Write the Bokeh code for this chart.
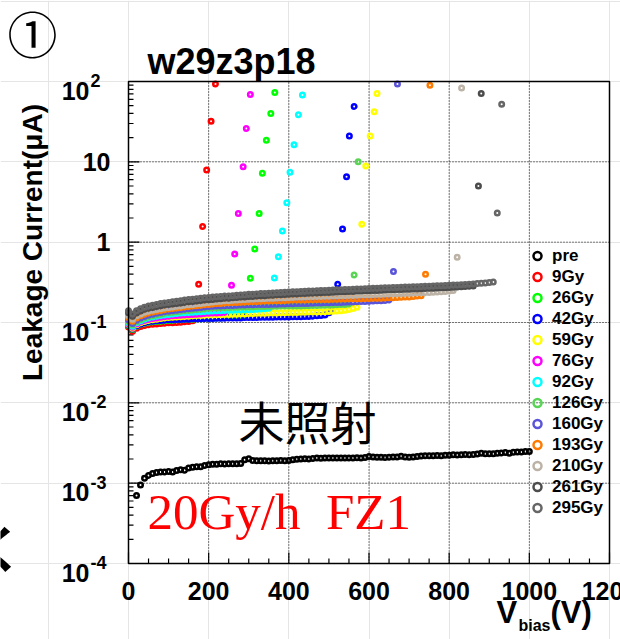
import math
from bokeh.plotting import figure
from bokeh.models import Range1d, Label
from bokeh.embed import file_html
from bokeh.resources import INLINE

# ---------------------------------------------------------------------------
# I-V sweeps of sensor w29z3p18 after successive gamma doses (20 Gy/h, FZ1)
# Sweep values in nA, bias stepped by VSTEP volts from the start voltage.
# Points past each sweep are the breakdown points (V, uA).
# ---------------------------------------------------------------------------
VSTEP = 10

doses = ["pre", "9Gy", "26Gy", "42Gy", "59Gy", "76Gy", "92Gy",
         "126Gy", "160Gy", "193Gy", "210Gy", "261Gy", "295Gy"]
colors = ["#000000", "#ff0000", "#00ff00", "#0000ff", "#ffff00", "#ff00ff",
          "#00ffff", "#59d454", "#5954d9", "#ff7a00", "#bcb3a6", "#4c4c4c",
          "#666666"]
sweep_start_V = [20, 0, 0, 0, 0, 0, 0, 0, 0, 0, 0, 0, 0]

pre_nA = [0.70, 0.95, 1.15, 1.25, 1.32, 1.36, 1.38, 1.38, 1.40, 1.38,
          1.44, 1.47, 1.45, 1.55, 1.58, 1.60, 1.60, 1.66, 1.70, 1.72,
          1.72, 1.74, 1.73, 1.74, 1.74, 1.75, 1.76, 1.95, 2.02, 1.92,
          1.90, 1.90, 1.90, 1.89, 1.90, 1.90, 1.91, 1.90, 1.92, 1.95,
          1.98, 2.00, 2.02, 2.00, 2.03, 2.05, 2.04, 2.06, 2.05, 2.06,
          2.05, 2.05, 2.06, 2.06, 2.05, 2.07, 2.06, 2.08, 2.15, 2.12,
          2.10, 2.10, 2.09, 2.10, 2.11, 2.12, 2.16, 2.12, 2.10, 2.12,
          2.15, 2.18, 2.20, 2.20, 2.20, 2.21, 2.20, 2.22, 2.23, 2.25,
          2.24, 2.25, 2.28, 2.26, 2.28, 2.30, 2.36, 2.32, 2.33, 2.32,
          2.35, 2.38, 2.40, 2.36, 2.42, 2.45, 2.45, 2.47, 2.47]
g9_nA = [88, 78, 85, 89, 92, 94, 95, 96, 97, 98, 99, 99, 100, 101, 102, 103, 105]
g26_nA = [92, 82, 90, 95, 98, 100, 102, 103, 104, 105,
          106, 107, 108, 108, 109, 110, 110, 111, 111, 112,
          113, 113, 114, 114, 115, 116, 116, 117, 118, 120]
g42_nA = [93, 83, 91, 96, 99, 102, 104, 105, 106, 107,
          108, 108, 109, 109, 110, 110, 111, 111, 111, 112,
          112, 112, 113, 113, 113, 114, 114, 114, 114, 115,
          115, 115, 115, 116, 116, 116, 116, 117, 117, 117,
          117, 118, 118, 118, 119, 119, 120, 121, 122, 124,
          132, 150]
g59_nA = [95, 85, 94, 99, 103, 106, 108, 110, 112, 114,
          115, 116, 117, 118, 119, 120, 121, 122, 122, 123,
          124, 124, 125, 125, 126, 126, 127, 127, 128, 128,
          129, 129, 130, 130, 130, 131, 131, 131, 132, 132,
          133, 133, 133, 134, 134, 135, 135, 135, 136, 136,
          137, 138, 139, 140, 142, 145, 149, 155]
g76_nA = [97, 87, 96, 102, 106, 109, 112, 114, 116, 118,
          120, 121, 122, 123, 124, 125, 126, 127, 128, 129,
          130, 131, 131, 132, 134]
g92_nA = [100, 90, 99, 105, 110, 114, 117, 120, 122, 124,
          126, 128, 129, 131, 132, 133, 134, 135, 136, 137,
          138, 139, 140, 140, 141, 142, 142, 143, 143, 144,
          144, 145, 146, 147, 148, 150]
g126_nA = [104, 93, 102, 109, 114, 118, 121, 124, 127, 130,
           132, 134, 136, 138, 140, 141, 143, 145, 146, 148,
           150, 151, 152, 153, 154, 154, 155, 155, 156, 156,
           157, 157, 158, 158, 158, 159, 159, 159, 160, 160,
           160, 161, 161, 161, 162, 162, 163, 163, 164, 164,
           165, 165, 166, 167, 168, 170]
g160_nA = [108, 97, 107, 114, 119, 123, 127, 130, 133, 136,
           138, 140, 142, 144, 146, 148, 150, 152, 154, 156,
           158, 159, 160, 161, 162, 163, 163, 164, 165, 165,
           166, 166, 167, 167, 168, 168, 169, 169, 170, 170,
           171, 171, 172, 172, 173, 173, 174, 175, 175, 176,
           176, 177, 178, 178, 179, 180, 180, 181, 182, 183,
           184, 185, 186, 187, 188, 190]
g193_nA = [115, 104, 114, 121, 127, 131, 135, 138, 141, 144,
           147, 149, 151, 154, 156, 158, 160, 162, 164, 166,
           168, 170, 172, 173, 175, 176, 177, 178, 179, 180,
           181, 182, 183, 184, 185, 185, 186, 187, 187, 188,
           189, 190, 190, 191, 191, 192, 192, 193, 193, 194,
           194, 195, 195, 196, 196, 197, 197, 198, 198, 199,
           199, 200, 200, 201, 202, 203, 204, 205, 206, 207,
           208, 210, 213, 216]
g210_nA = [122, 110, 121, 128, 134, 138, 142, 145, 148, 151,
           154, 156, 159, 161, 164, 166, 168, 171, 173, 175,
           178, 180, 182, 184, 186, 187, 189, 190, 192, 193,
           195, 196, 197, 198, 199, 200, 201, 202, 203, 204,
           205, 206, 207, 208, 209, 210, 211, 212, 212, 213,
           214, 215, 216, 217, 217, 218, 219, 220, 221, 222,
           222, 223, 224, 225, 226, 227, 228, 229, 230, 231,
           232, 233, 234, 235, 236, 237, 238, 240, 241, 243,
           246, 250]
g261_nA = [132, 120, 131, 139, 146, 150, 154, 158, 162, 165,
           167, 170, 173, 175, 178, 181, 183, 185, 188, 190,
           192, 194, 196, 198, 200, 201, 203, 205, 207, 208,
           210, 211, 213, 215, 216, 218, 219, 221, 222, 223,
           225, 226, 227, 229, 230, 231, 232, 233, 235, 236,
           237, 238, 240, 241, 242, 243, 244, 246, 247, 248,
           249, 250, 251, 252, 254, 255, 256, 257, 258, 259,
           260, 261, 262, 264, 265, 266, 267, 268, 270, 271,
           272, 274, 276, 278, 280, 282, 285]
g295_nA = [140, 128, 140, 148, 155, 160, 164, 168, 172, 175,
           178, 181, 184, 186, 190, 193, 195, 197, 200, 203,
           205, 207, 209, 211, 213, 214, 216, 218, 220, 222,
           224, 225, 227, 229, 230, 232, 233, 235, 237, 238,
           240, 241, 242, 244, 245, 246, 247, 248, 250, 251,
           252, 253, 255, 256, 257, 258, 259, 261, 262, 263,
           265, 266, 267, 268, 270, 271, 272, 273, 274, 276,
           277, 278, 279, 281, 282, 283, 284, 286, 287, 288,
           290, 292, 294, 296, 298, 300, 302, 305, 307, 311,
           315, 320]
sweeps_nA = [pre_nA, g9_nA, g26_nA, g42_nA, g59_nA, g76_nA, g92_nA,
             g126_nA, g160_nA, g193_nA, g210_nA, g261_nA, g295_nA]

breakdown_V = [
    [],
    [175, 185, 195, 206, 217],
    [304, 315, 326, 334, 344, 355, 365],
    [522, 534, 544, 551, 563],
    [582, 592, 603, 613, 620],
    [257, 265, 274, 286, 294, 304],
    [364, 374, 384, 395, 403, 413, 424, 434],
    [563, 573],
    [661, 671],
    [741, 752],
    [820, 831],
    [873, 880],
    [920, 931],
]
breakdown_uA = [
    [],
    [0.30, 1.57, 7.9, 32.0, 93.0],
    [0.355, 0.82, 2.27, 7.2, 18.6, 40.0, 73.0],
    [0.30, 1.46, 6.5, 21.0, 49.0],
    [1.67, 8.9, 21.0, 42.0, 71.0],
    [0.29, 0.71, 2.27, 8.7, 26.0, 69.0],
    [0.357, 0.66, 1.38, 3.1, 7.4, 16.3, 38.6, 68.0],
    [0.39, 10.0],
    [0.43, 93.0],
    [0.40, 90.0],
    [0.65, 83.0],
    [5.0, 71.0],
    [2.3, 52.0],
]

x_ticks = [0, 200, 400, 600, 800, 1000, 1200]
x_tick_labels = ["0", "200", "400", "600", "800", "1000", "1200"]
x_grid = [200, 400, 600, 800, 1000]
y_ticks = [1e2, 1e1, 1e0, 1e-1, 1e-2, 1e-3, 1e-4]
y_tick_base = ["10", "10", "1", "10", "10", "10", "10"]
y_tick_exp = ["2", "", "", "-1", "-2", "-3", "-4"]

# ---------------------------------------------------------------------------
# canvas layout: the plot box sits inside a full-canvas frame so that the
# ROOT-style decorations around it can be drawn freely
# ---------------------------------------------------------------------------
W, H = 620, 639
BOX_L, BOX_R, BOX_T, BOX_B = 128, 609, 81, 563       # plot box, canvas px
X_LO, X_HI = 0.0, 1200.0
DEC_LO, DEC_HI = -4, 2
PX_PER_V = (BOX_R - BOX_L) / (X_HI - X_LO)
DEC_PER_PX = (DEC_HI - DEC_LO) / (BOX_B - BOX_T)
SANS = "Liberation Sans"

p = figure(width=W, height=H,
           x_range=Range1d(X_LO - BOX_L / PX_PER_V, X_HI + (W - BOX_R) / PX_PER_V),
           y_range=Range1d(10 ** (DEC_LO - (H - BOX_B) * DEC_PER_PX),
                           10 ** (DEC_HI + BOX_T * DEC_PER_PX)),
           y_axis_type="log", x_axis_location=None, y_axis_location=None,
           output_backend="svg", toolbar_location=None, min_border=0)
p.outline_line_color = None
p.background_fill_color = "white"
p.border_fill_color = "white"

Y_LO, Y_HI = 10.0 ** DEC_LO, 10.0 ** DEC_HI


def up(y, px):
    """y moved upward by px pixels on the log axis"""
    return y * 10 ** (px * DEC_PER_PX)


# dotted grid
p.segment(x0=x_grid, y0=[Y_LO] * len(x_grid), x1=x_grid, y1=[Y_HI] * len(x_grid),
          line_color="black", line_width=1, line_dash="1 2")
p.segment(x0=[X_LO] * len(y_ticks), y0=y_ticks, x1=[X_HI] * len(y_ticks), y1=y_ticks,
          line_color="black", line_width=1, line_dash="1 2")

# inward ticks on the bottom and left edges
minor_x = [v for v in range(0, 1201, 50) if v not in x_ticks]
minor_y = [m * 10.0 ** e for e in range(DEC_LO, DEC_HI) for m in range(2, 10)]
MAJ, MIN = 11, 5
p.segment(x0=x_ticks, y0=[Y_LO] * len(x_ticks), x1=x_ticks,
          y1=[up(Y_LO, MAJ)] * len(x_ticks), line_color="black", line_width=1.2)
p.segment(x0=minor_x, y0=[Y_LO] * len(minor_x), x1=minor_x,
          y1=[up(Y_LO, MIN)] * len(minor_x), line_color="black", line_width=1.2)
p.segment(x0=[X_LO] * len(y_ticks), y0=y_ticks, x1=[X_LO + MAJ / PX_PER_V] * len(y_ticks),
          y1=y_ticks, line_color="black", line_width=1.2)
p.segment(x0=[X_LO] * len(minor_y), y0=minor_y, x1=[X_LO + MIN / PX_PER_V] * len(minor_y),
          y1=minor_y, line_color="black", line_width=1.2)

# data
for name, col, v0, sw, bv, bi in zip(doses, colors, sweep_start_V,
                                     sweeps_nA, breakdown_V, breakdown_uA):
    xs = [v0 + VSTEP * i for i in range(len(sw))] + bv
    ys = [c / 1000.0 for c in sw] + bi
    p.scatter(xs, ys, marker="circle", size=4.5, line_width=2.5,
              line_color=col, fill_color=None, legend_label=name)

# plot box
p.quad(left=[X_LO], right=[X_HI], bottom=[Y_LO], top=[Y_HI],
       fill_color=None, line_color="black", line_width=1.5)


def label(x, y, text, size, font=SANS, style="bold", color="black",
          align="left", baseline="alphabetic", angle=0.0, dy=0.0,
          x_units="screen", y_units="screen"):
    p.add_layout(Label(x=x, y=y, x_units=x_units, y_units=y_units, text=text,
                       text_font=font, text_font_style=style,
                       text_font_size=size, text_color=color,
                       text_align=align, text_baseline=baseline,
                       angle=angle, y_offset=dy))


# x tick labels
for t, s in zip(x_ticks, x_tick_labels):
    label(t, Y_LO, s, "25px", align="center", dy=-27,
          x_units="data", y_units="data")

# y tick labels: 10 with a raised exponent
for t, b, e in zip(y_ticks, y_tick_base, y_tick_exp):
    if e:
        label(89, t, b, "25px", align="right", dy=-9, y_units="data")
        label(90, t, e, "18px", align="left", dy=1, y_units="data")
    else:
        label(110, t, b, "25px", align="right", dy=0, y_units="data")

# texts around the box (screen units from the canvas' lower-left corner)
label(147, H - 61, "w29z3p18", "36px")
label(32, H - 31, "①", "50px", font="Noto Sans CJK JP", style="normal",
      align="center", baseline="middle")
label(32, H - 242, "Leakage Current(μA)", "28px", align="center",
      angle=math.pi / 2)
label(496, H - 612, "V", "31px")
label(518, H - 625, "bias", "16px")
label(550, H - 612, "(V)", "31px")
label(307, H - 419, "未照射", "46px", font="Noto Sans CJK JP", style="normal",
      align="center", baseline="middle")
label(147, H - 511, "20Gy/h\u2002FZ1", "51px", font="Liberation Serif",
      style="normal", color="#ff0000")
label(-27, H - 545, "く", "50px", font="Noto Sans CJK JP", style="bold",
      baseline="middle")

leg = p.legend[0]
leg.location = (527, H - 518)
leg.background_fill_alpha = 0
leg.border_line_alpha = 0
leg.padding = 0
leg.margin = 0
leg.spacing = 0
leg.glyph_width = 20
leg.glyph_height = 21
leg.label_height = 21
leg.label_standoff = 5
leg.label_text_font = SANS
leg.label_text_font_style = "bold"
leg.label_text_font_size = "17px"
leg.label_text_color = "black"

open("out.html", "w").write(file_html(p, INLINE))
